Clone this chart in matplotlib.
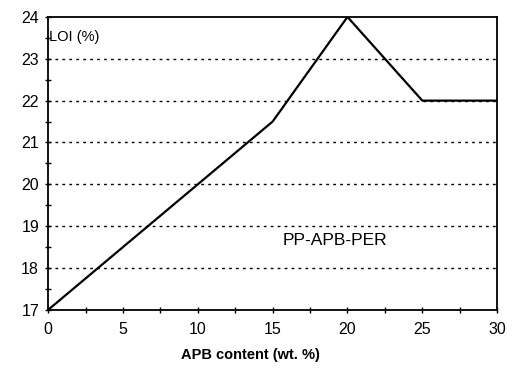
import matplotlib
matplotlib.use("Agg")
import matplotlib.pyplot as plt
from matplotlib.ticker import MultipleLocator

plt.rcParams['font.family'] = ['Liberation Sans', 'DejaVu Sans']

apb_content = [0, 5, 10, 15, 20, 25, 30]
loi = [17, 18.5, 20, 21.5, 24, 22, 22]
x_ticks = [0, 5, 10, 15, 20, 25, 30]
y_ticks = [17, 18, 19, 20, 21, 22, 23, 24]

fig = plt.figure(figsize=(5.12, 3.68), dpi=100)
ax = fig.add_axes([0.094, 0.158, 0.877, 0.796])
ax.plot(apb_content, loi, color='black', linewidth=1.6)
ax.set_xlim(0, 30)
ax.set_ylim(17, 24)
ax.set_xticks(x_ticks)
ax.set_yticks(y_ticks)
ax.xaxis.set_minor_locator(MultipleLocator(2.5))
ax.yaxis.set_minor_locator(MultipleLocator(0.5))
ax.tick_params(which='both', direction='inout', length=5, width=1, labelsize=11.5, colors='black')
ax.tick_params(which='minor', length=4)
ax.tick_params(axis='x', pad=6)
ax.tick_params(axis='y', pad=4)
for y in y_ticks[1:-1]:
    ax.axhline(y, color='black', linestyle=(0, (2, 3)), linewidth=1.0)
for s in ax.spines.values():
    s.set_linewidth(1.3)
ax.text(0.003, 0.955, 'LOI (%)', transform=ax.transAxes, fontsize=10.5, va='top', ha='left')
ax.text(15.7, 18.65, 'PP-APB-PER', fontsize=12.5, va='center', ha='left')
fig.text(0.49, 0.035, 'APB content (wt. %)', fontsize=10.5, fontweight='bold', ha='center', va='center')
fig.savefig('out.png', dpi=100)
